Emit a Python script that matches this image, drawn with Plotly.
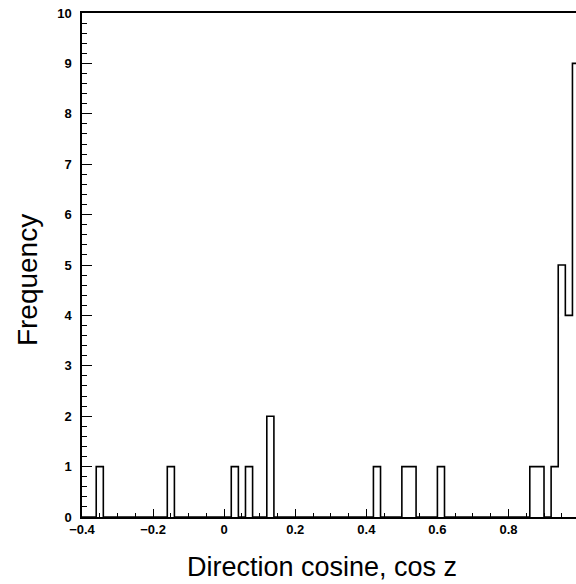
import numpy as np
import plotly.graph_objects as go

# Histogram of direction cosines (bin width 0.02 from -0.4 to 1.0)
bin_width = 0.02
x_min, x_max = -0.4, 1.0
x_view_max = 0.99  # the reference frame is cropped just before x = 1.0
bin_start = [-0.36, -0.16, 0.02, 0.06, 0.12, 0.42, 0.50, 0.52, 0.60, 0.86, 0.88, 0.92, 0.94, 0.96, 0.98]
counts = [1, 1, 1, 1, 2, 1, 1, 1, 1, 1, 1, 1, 5, 4, 9]

x_tickvals = [-0.4, -0.2, 0, 0.2, 0.4, 0.6, 0.8]
x_ticktext = ["\u22120.4", "\u22120.2", "0", "0.2", "0.4", "0.6", "0.8"]
y_tickvals = list(range(0, 11))

n_bins = int(round((x_max - x_min) / bin_width))
edges = [round(x_min + i * bin_width, 4) for i in range(n_bins + 1)]
full = [0] * n_bins
for s, c in zip(bin_start, counts):
    full[int(round((s - x_min) / bin_width))] = c

xs = edges
ys = full + [0]

fig = go.Figure()
fig.add_trace(go.Scatter(x=xs, y=ys, mode="lines", line=dict(shape="hv", color="black", width=1.6),
                         hoverinfo="skip", showlegend=False))

font_family = "Liberation Sans, Arial, sans-serif"
tickfont = dict(family=font_family, size=13, color="black", weight="bold")
fig.update_layout(
    width=576, height=584,
    margin=dict(l=82, r=0, t=13, b=67),
    paper_bgcolor="white", plot_bgcolor="white",
    xaxis=dict(range=[x_min, x_view_max], tickvals=x_tickvals, ticktext=x_ticktext,
               ticks="inside", ticklen=8, tickwidth=1.3, tickcolor="black",
               minor=dict(dtick=0.05, tick0=0, ticks="inside", ticklen=4, tickwidth=1.2, tickcolor="black"),
               showline=True, linecolor="black", linewidth=1.5, mirror=True,
               showgrid=False, zeroline=False, tickfont=tickfont, ticklabeloverflow="allow"),
    yaxis=dict(range=[0, 10], tickvals=y_tickvals,
               ticks="inside", ticklen=10, tickwidth=1.3, tickcolor="black",
               minor=dict(dtick=0.2, tick0=0, ticks="inside", ticklen=5, tickwidth=1.2, tickcolor="black"),
               showline=True, linecolor="black", linewidth=1.5, mirror=False,
               showgrid=False, zeroline=False, tickfont=tickfont, ticklabelstandoff=6,
               ticklabeloverflow="allow"),
    annotations=[
        dict(text="Frequency", textangle=-90, xref="paper", yref="paper",
             x=0, y=0.47, xanchor="center", yanchor="middle", xshift=-55,
             showarrow=False, font=dict(family=font_family, size=28, color="black")),
        dict(text="Direction cosine, cos z", xref="paper", yref="paper",
             x=0.5, y=0, xanchor="center", yanchor="middle", xshift=-7, yshift=-50,
             showarrow=False, font=dict(family=font_family, size=27, color="black")),
    ],
)

fig.write_html("out.html", config={"displayModeBar": False},
               post_script="document.body.style.margin='0';document.body.style.overflow='hidden';")
